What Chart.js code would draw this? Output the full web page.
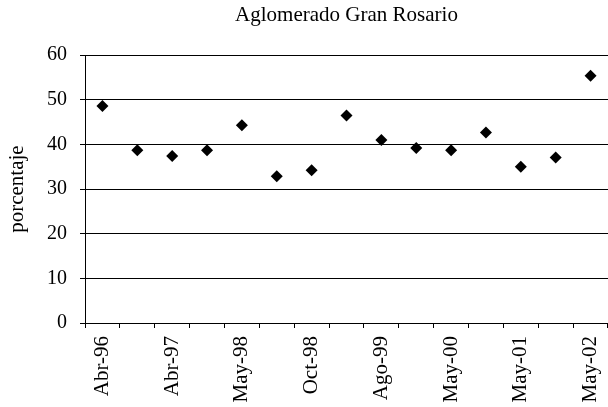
<!DOCTYPE html>
<html>
<head>
<meta charset="utf-8">
<script src="https://cdn.jsdelivr.net/npm/chart.js@4"></script>
<style>
  html, body { margin: 0; padding: 0; background: #fff; }
  #wrap { width: 608px; height: 407px; }
</style>
</head>
<body>
<div id="wrap"><canvas id="c" width="608" height="407"></canvas></div>
<script>
const categories = ['Abr-96','Oct-96','Abr-97','Oct-97','May-98','Ago-98','Oct-98','May-99','Ago-99','Oct-99','May-00','Oct-00','May-01','Oct-01','May-02'];
const values = [48.6, 38.7, 37.4, 38.7, 44.3, 32.9, 34.2, 46.5, 41.0, 39.2, 38.7, 42.7, 35.0, 37.1, 55.4];
const yTicks = [0, 10, 20, 30, 40, 50, 60];
const subtitleText = 'Aglomerado Gran Rosario';
const yTitle = 'porcentaje';

const serif = '"Liberation Serif", "Times New Roman", serif';

new Chart(document.getElementById('c'), {
  type: 'line',
  data: {
    labels: categories,
    datasets: [{
      data: values,
      showLine: false,
      clip: false,
      pointStyle: 'rectRot',
      pointRadius: 6,
      pointHoverRadius: 6,
      backgroundColor: '#000',
      borderColor: '#000',
      borderWidth: 0
    }]
  },
  options: {
    responsive: false,
    devicePixelRatio: 1,
    animation: false,
    layout: { autoPadding: false, padding: { left: 0, right: 0, top: 0, bottom: 0 } },
    plugins: {
      legend: { display: false },
      tooltip: { enabled: false },
      title: {
        display: true,
        text: subtitleText,
        fullSize: false,
        color: '#000',
        font: { family: serif, size: 21, weight: 'normal', lineHeight: 1.2 },
        padding: { top: 3, bottom: 27 }
      }
    },
    scales: {
      x: {
        type: 'category',
        offset: true,
        grid: { offset: true, drawOnChartArea: false, drawTicks: true, tickLength: 5, color: '#000', lineWidth: 1 },
        border: { display: true, color: '#000', width: 1 },
        ticks: {
          autoSkip: false,
          maxRotation: 90,
          minRotation: 90,
          padding: 8,
          color: '#000',
          font: { family: serif, size: 21 },
          callback: function(v, i) { return i % 2 === 0 ? categories[i] : ''; }
        },
        afterFit: function(scale) { scale.height = 84; scale.paddingLeft = 0; scale.paddingRight = 0; }
      },
      y: {
        min: 0,
        max: 60,
        afterBuildTicks: function(scale) { scale.ticks = yTicks.map(v => ({ value: v })); },
        grid: { color: '#000', lineWidth: 1, drawTicks: true, tickLength: 5 },
        border: { display: true, color: '#000', width: 1 },
        ticks: { padding: 13, color: '#000', font: { family: serif, size: 20 } },
        title: {
          display: true,
          text: yTitle,
          color: '#000',
          font: { family: serif, size: 21 },
          padding: { top: 5, bottom: 0 }
        },
        afterFit: function(scale) { scale.width = 85; }
      }
    }
  }
});
</script>
</body>
</html>
